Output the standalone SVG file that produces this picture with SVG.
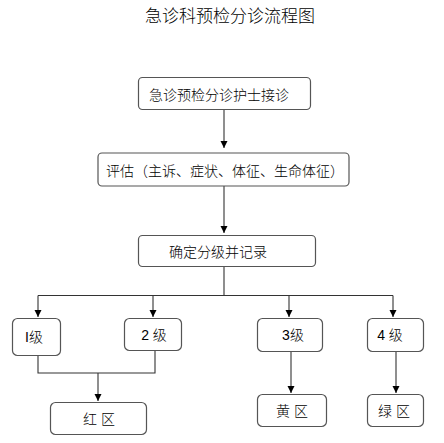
<svg xmlns="http://www.w3.org/2000/svg" width="444" height="443" viewBox="0 0 444 443">
<style>
.box{fill:#fff;stroke:#555;stroke-width:1.2}
.t{font-family:"Liberation Sans","Noto Sans CJK SC",sans-serif;font-size:14px;font-weight:300;fill:#000;text-anchor:middle}
.c{fill:none;stroke:#333;stroke-width:1.1}
</style>
<defs>
<marker id="ah" markerWidth="7" markerHeight="8" refX="7" refY="3.5" orient="auto" markerUnits="userSpaceOnUse">
<path d="M0,0 L7,3.5 L0,7 Z" fill="#000"/>
</marker>
</defs>
<rect width="444" height="443" fill="#fff"/>
<text x="230" y="22" class="t" style="font-size:17px">急诊科预检分诊流程图</text>
<g id="connectors">
<path class="c" d="M224,110 V148" marker-end="url(#ah)"/>
<path class="c" d="M224,186 V233" marker-end="url(#ah)"/>
<path class="c" d="M224,267 V295.5 M38,295.5 H393"/>
<path class="c" d="M38,295.5 V317" marker-end="url(#ah)"/>
<path class="c" d="M153,295.5 V317" marker-end="url(#ah)"/>
<path class="c" d="M289,295.5 V317" marker-end="url(#ah)"/>
<path class="c" d="M393,295.5 V317" marker-end="url(#ah)"/>
<path class="c" d="M38,356 V373 H155 V351"/>
<path class="c" d="M98,373 V401" marker-end="url(#ah)"/>
<path class="c" d="M291,352 V393" marker-end="url(#ah)"/>
<path class="c" d="M396,352 V393" marker-end="url(#ah)"/>
</g>
<g id="n1"><rect class="box" x="138.5" y="77.5" width="172" height="32" rx="4"/><text class="t" x="219" y="100">急诊预检分诊护士接诊</text></g>
<g id="n2"><rect class="box" x="98" y="153" width="251" height="33" rx="4"/><text class="t" x="225" y="176">评估（主诉、症状、体征、生命体征）</text></g>
<g id="n3"><rect class="box" x="138.5" y="235.5" width="177" height="31" rx="4"/><text class="t" x="218" y="257">确定分级并记录</text></g>
<g id="n4"><rect class="box" x="12.5" y="318.5" width="48" height="37" rx="5"/><text class="t" x="34" y="342">I级</text></g>
<g id="n5"><rect class="box" x="124.5" y="318.5" width="57" height="32" rx="5"/><text class="t" x="154" y="340">2 级</text></g>
<g id="n6"><rect class="box" x="257.5" y="318.5" width="65" height="33" rx="5"/><text class="t" x="293" y="340">3级</text></g>
<g id="n7"><rect class="box" x="367.5" y="318.5" width="56" height="33" rx="5"/><text class="t" x="390" y="340">4 级</text></g>
<g id="n8"><rect class="box" x="50.5" y="402.5" width="96" height="32" rx="5"/><text class="t" x="99" y="424">红 区</text></g>
<g id="n9"><rect class="box" x="257.5" y="394.5" width="69" height="32" rx="5"/><text class="t" x="292" y="416">黄 区</text></g>
<g id="n10"><rect class="box" x="367.5" y="394.5" width="56" height="32" rx="5"/><text class="t" x="394" y="416">绿 区</text></g>
</svg>
